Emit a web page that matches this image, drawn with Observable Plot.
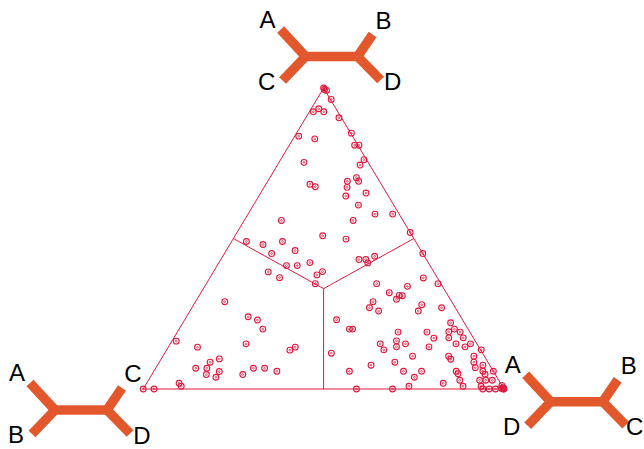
<!DOCTYPE html>
<html>
<head>
<meta charset="utf-8">
<script src="https://cdn.jsdelivr.net/npm/d3@7"></script>
<script src="https://cdn.jsdelivr.net/npm/@observablehq/plot@0.6"></script>
<style>
  html, body { margin: 0; padding: 0; background: #fff; overflow: hidden; }
  svg { display: block; }
</style>
</head>
<body>
<div id="chart"></div>
<script>
// Quartet topologies at the three vertices: top, bottom-left, bottom-right
const topologies = ["AC|BD", "AB|CD", "AD|BC"];
// Leaf labels of each corner tree, in order: upper-left, upper-right, lower-left, lower-right
const leavesTop = ["A", "B", "C", "D"];
const leavesLeft = ["A", "C", "B", "D"];
const leavesRight = ["A", "B", "D", "C"];

// Support for the top topology (AC|BD) of each gene tree quartet
const qTop = [
  1.000, 0.995, 0.992, 0.962, 0.921, 0.931, 0.921, 0.901, 0.840, 0.831,
  0.850, 0.810, 0.810, 0.753, 0.762, 0.744, 0.680, 0.672, 0.690, 0.702,
  0.690, 0.670, 0.641, 0.651, 0.611, 0.581, 0.581, 0.560, 0.560, 0.509,
  0.498, 0.490, 0.480, 0.490, 0.520, 0.460, 0.450, 0.420, 0.410, 0.410,
  0.390, 0.379, 0.389, 0.370, 0.350, 0.430, 0.430, 0.419, 0.441, 0.450,
  0.369, 0.350, 0.341, 0.350, 0.320, 0.311, 0.310, 0.298, 0.290, 0.270,
  0.259, 0.280, 0.259, 0.270, 0.230, 0.199, 0.199, 0.220, 0.189, 0.189,
  0.190, 0.199, 0.189, 0.169, 0.170, 0.170, 0.160, 0.150, 0.150, 0.150,
  0.140, 0.150, 0.140, 0.130, 0.140, 0.130, 0.119, 0.109, 0.109, 0.099,
  0.109, 0.079, 0.089, 0.059, 0.059, 0.059, 0.089, 0.071, 0.079, 0.059,
  0.051, 0.039, 0.059, 0.049, 0.059, 0.029, 0.019, 0.029, 0.029, 0.029,
  0.009, 0.009, 0.009, 0.000, 0.000, 0.000, 0.000, 0.000, 0.012, 0.002,
  0.004, 0.000, 0.000, 0.290, 0.240, 0.229, 0.199, 0.159, 0.139, 0.150,
  0.129, 0.139, 0.100, 0.089, 0.069, 0.069, 0.058, 0.048, 0.039, 0.069,
  0.069, 0.059, 0.048, 0.019, 0.009, 0.000, 0.000
];
// Support for the bottom-right topology (AD|BC) of each quartet
const qRight = [
  0.000, 0.005, 0.012, 0.040, 0.011, 0.021, 0.040, 0.092, 0.011, 0.060,
  0.152, 0.181, 0.193, 0.069, 0.231, 0.229, 0.122, 0.141, 0.221, 0.240,
  0.252, 0.230, 0.241, 0.292, 0.291, 0.352, 0.401, 0.302, 0.103, 0.243,
  0.313, 0.141, 0.092, 0.041, 0.480, 0.191, 0.131, 0.252, 0.192, 0.222,
  0.302, 0.292, 0.152, 0.193, 0.302, 0.383, 0.402, 0.413, 0.421, 0.550,
  0.592, 0.472, 0.562, 0.642, 0.522, 0.554, 0.563, 0.553, 0.492, 0.492,
  0.523, 0.632, 0.633, 0.692, 0.421, 0.472, 0.481, 0.742, 0.612, 0.692,
  0.752, 0.763, 0.784, 0.721, 0.762, 0.802, 0.622, 0.582, 0.652, 0.792,
  0.822, 0.832, 0.632, 0.602, 0.722, 0.872, 0.462, 0.692, 0.792, 0.803,
  0.862, 0.592, 0.653, 0.542, 0.692, 0.742, 0.872, 0.885, 0.902, 0.838,
  0.847, 0.732, 0.912, 0.923, 0.941, 0.863, 0.822, 0.918, 0.935, 0.953,
  0.732, 0.882, 0.932, 0.591, 0.691, 0.941, 0.959, 0.976, 0.988, 0.992,
  0.996, 1.000, 0.998, 0.081, 0.171, 0.202, 0.232, 0.012, 0.081, 0.210,
  0.342, 0.352, 0.161, 0.141, 0.111, 0.142, 0.182, 0.151, 0.182, 0.271,
  0.302, 0.341, 0.252, 0.090, 0.101, 0.000, 0.030
];

const RED = "#e3183c";
const TREE = "#e2582c";

// ternary (top, right) -> cartesian in unit triangle coordinates
const toXY = (t, r) => ({x: r + t / 2, y: t});

const points = qTop.map((t, i) => {
  const r = qRight[i];
  return {qTop: t, qLeft: 1 - t - r, qRight: r, ...toXY(t, r)};
});

const vTop = toXY(1, 0), vLeft = toXY(0, 0), vRight = toXY(0, 1);
const triangle = [vTop, vLeft, vRight, vTop];
const centre = toXY(1 / 3, 1 / 3);
const mids = [toXY(0.5, 0), toXY(0.5, 0.5), toXY(0, 0.5)];
const dividers = mids.map(m => ({x1: centre.x, y1: centre.y, x2: m.x, y2: m.y}));

const plot = Plot.plot({
  width: 644,
  height: 449,
  margin: 0,
  x: {domain: [0, 1], range: [142.7, 503.5], axis: null},
  y: {domain: [0, 1], range: [388.5, 87.5], axis: null},
  style: {background: "#fff", overflow: "visible"},
  marks: [
    Plot.line(triangle, {x: "x", y: "y", stroke: RED, strokeWidth: 1}),
    Plot.link(dividers, {x1: "x1", y1: "y1", x2: "x2", y2: "y2", stroke: RED, strokeWidth: 1}),
    Plot.dot(points, {x: "x", y: "y", r: 2.9, stroke: RED, fill: "none", strokeWidth: 1.1}),
    Plot.dot(points, {x: "x", y: "y", r: 0.9, stroke: RED, fill: "none", strokeWidth: 0.7})
  ]
});

document.getElementById("chart").appendChild(plot);

// Corner tree icons, anchored to the triangle vertices through the scales
const sx = plot.scale("x"), sy = plot.scale("y");
const svg = d3.select(plot);
const trees = [
  {v: vTop, dx: 8.5, dy: -31, leaves: leavesTop, shiftLR: 0},
  {v: vLeft, dx: -61.7, dy: 21.5, leaves: leavesLeft, shiftLR: 0},
  {v: vRight, dx: 73.2, dy: 13.2, leaves: leavesRight, shiftLR: -3}
];
const branches = [
  [[-26, 0], [26, 0]],
  [[-26, 0], [-51, -27]],
  [[-26, 0], [-49, 24]],
  [[26, 0], [41, -22]],
  [[26, 0], [49, 23.5]]
];
const labelPos = [[-64, -29], [52, -28], [-65, 33], [61, 33.5]];
trees.forEach(t => {
  const cx = sx.apply(t.v.x) + t.dx, cy = sy.apply(t.v.y) + t.dy;
  const g = svg.append("g").attr("transform", `translate(${cx},${cy})`);
  branches.forEach(([a, b]) => {
    g.append("line")
      .attr("x1", a[0]).attr("y1", a[1]).attr("x2", b[0]).attr("y2", b[1])
      .attr("stroke", TREE).attr("stroke-width", 9.5).attr("stroke-linecap", "butt");
  });
  t.leaves.forEach((lab, i) => {
    g.append("text")
      .attr("x", labelPos[i][0] + (i === 3 ? t.shiftLR : 0)).attr("y", labelPos[i][1])
      .attr("text-anchor", "middle")
      .attr("font-family", "'Liberation Sans', Arial, sans-serif")
      .attr("font-size", 24)
      .attr("fill", "#000")
      .text(lab);
  });
});
</script>
</body>
</html>
